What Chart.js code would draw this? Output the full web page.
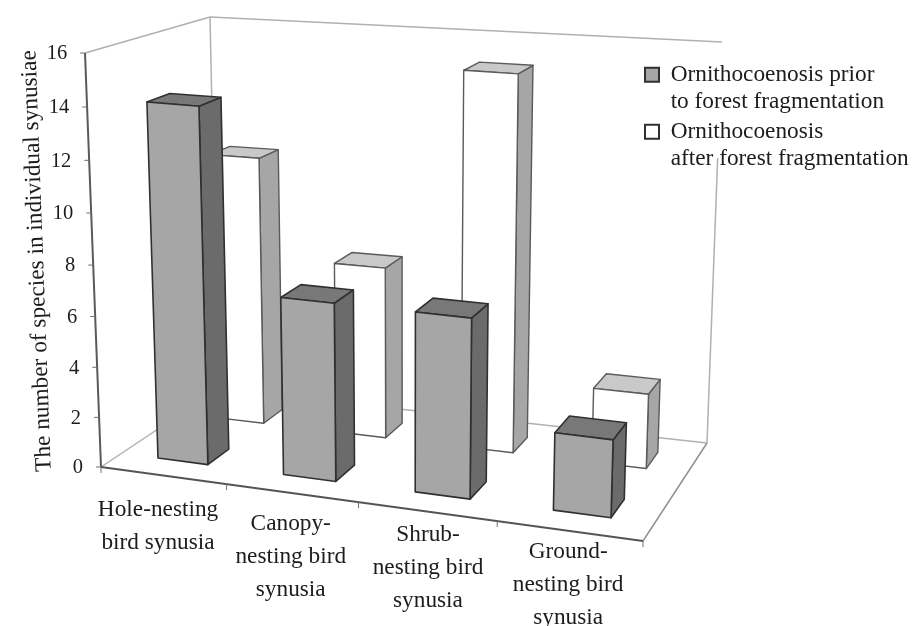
<!DOCTYPE html>
<html><head><meta charset="utf-8">
<style>html,body{margin:0;padding:0;background:#fff}#w{width:912px;height:626px}</style>
<script src="https://cdn.jsdelivr.net/npm/chart.js@4/dist/chart.umd.min.js"></script>
</head><body><div id="w"><canvas id="c" width="912" height="626"></canvas></div>
<script>
const categories = [
  ["Hole-nesting","bird synusia"],
  ["Canopy-","nesting bird","synusia"],
  ["Shrub-","nesting bird","synusia"],
  ["Ground-","nesting bird","synusia"]
];
const priorValues = [14, 7, 7, 3];
const afterValues = [11, 7, 15, 3];
const priorLabel = ["Ornithocoenosis prior","to forest fragmentation"];
const afterLabel = ["Ornithocoenosis","after forest fragmentation"];
const yTitle = "The number of species in individual synusiae";
const yMax = 16, yStep = 2;

const FONT = "'Liberation Serif'";
const FS = 23.3, TICKFS = 20.5;
const TXT = "#1c1c1c";
// perspective box of the plot: floor corners, wall heights for the full axis, vertical vanishing point
const FL=[101,467],FR=[643,541],BR=[707,443],BL=[218,389];
const TBR=[722,42],TBL=[210,17],TFL=[85,53];
const HFL=414,HFR=440,HBR=401,HBL=372;
const VP=[405,8400];
const K=1.05, UWARP=0.045;
function homo(p00,p10,p11,p01){
  const [x0,y0]=p00,[x1,y1]=p10,[x2,y2]=p11,[x3,y3]=p01;
  const dx1=x1-x2,dx2=x3-x2,sx=x0-x1+x2-x3,dy1=y1-y2,dy2=y3-y2,sy=y0-y1+y2-y3;
  const d=dx1*dy2-dx2*dy1,g=(sx*dy2-dx2*sy)/d,h=(dx1*sy-sx*dy1)/d;
  const a=x1-x0+g*x1,b=x3-x0+h*x3,e=y1-y0+g*y1,f=y3-y0+h*y3;
  return (u,v)=>{const w=g*u+h*v+1;return [(a*u+b*v+x0)/w,(e*u+f*v+y0)/w];};
}
const floorH=homo(FL,FR,BR,BL);
function proj(u0,v,h){
  const u=u0+UWARP*u0*(1-u0);
  const p=floorH(u,v);
  const full=(1-v)*((1-u)*HFL+u*HFR)+v*((1-u)*HBL+u*HBR);
  const t=h/(h+K*(1-h))*full;
  return [p[0]+(p[0]-VP[0])/(VP[1]-p[1])*t,p[1]-t];
}
const depthCentre=[0.25,0.75], depthHalf=0.09;
const faceStyle=[
  {front:"#a6a6a6",side:"#6b6b6b",top:"#787878",line:"#303030",lw:1.6},
  {front:"#ffffff",side:"#a6a6a6",top:"#c9c9c9",line:"#5a5a5a",lw:1.4}
];
const labelDrop=[34,31,23,21], labelShift=[-5,-1,1,-1];

function poly(ctx,pts,fill,line,lw){
  ctx.beginPath();pts.forEach((p,i)=>i?ctx.lineTo(p[0],p[1]):ctx.moveTo(p[0],p[1]));ctx.closePath();
  ctx.fillStyle=fill;ctx.fill();ctx.strokeStyle=line;ctx.lineWidth=lw;ctx.lineJoin="round";ctx.stroke();
}
function seg(ctx,a,b,col,lw){ctx.beginPath();ctx.moveTo(a[0],a[1]);ctx.lineTo(b[0],b[1]);ctx.strokeStyle=col;ctx.lineWidth=lw;ctx.stroke();}

const box3d={
  id:"box3d",
  beforeDraw(chart){
    const l=chart.legend; if(!l)return;
    l.left=642;l.right=912;l.top=60;l.bottom=200;
  },
  beforeDatasetsDraw(chart){
    const ctx=chart.ctx,a=chart.chartArea,xs=chart.scales.x,ys=chart.scales.y;
    ctx.save();
    const wall="#b0b0b0";
    seg(ctx,TFL,TBL,wall,1.5);
    seg(ctx,BL,TBL,wall,1.5);
    seg(ctx,TBL,TBR,wall,1.5);
    const t=(158-BR[1])/(TBR[1]-BR[1]);
    seg(ctx,BR,[BR[0]+(TBR[0]-BR[0])*t,158],wall,1.5);
    seg(ctx,FL,BL,wall,1.5);
    seg(ctx,BL,BR,wall,1.5);
    seg(ctx,BR,FR,"#909090",1.5);
    seg(ctx,FR,FL,"#555555",2);
    seg(ctx,FL,TFL,"#5a5a5a",2);
    ctx.textBaseline="middle";ctx.textAlign="right";ctx.font=TICKFS+"px "+FONT;
    ys.ticks.forEach(tk=>{
      const h=(ys.bottom-ys.getPixelForValue(tk.value))/(ys.bottom-ys.top);
      const p=proj(0,0,h);
      seg(ctx,[p[0]-5,p[1]],p,"#707070",1);
      ctx.fillStyle=TXT;ctx.fillText(String(tk.value),p[0]-18,p[1]+1);
    });
    const n=categories.length;
    for(let i=0;i<=n;i++){
      const p=proj(i/n,0,0);
      seg(ctx,p,[p[0],p[1]+6],"#707070",1);
    }
    ctx.textAlign="center";ctx.font=FS+"px "+FONT;
    categories.forEach((lines,i)=>{
      const u=(xs.getPixelForValue(i)-a.left)/a.width,p=proj(u,0,0);
      lines.forEach((s,j)=>{ctx.fillStyle=TXT;ctx.fillText(s,p[0]+labelShift[i],p[1]+labelDrop[i]+j*33);});
    });
    ctx.save();ctx.translate(37,261);ctx.rotate(-(90+2.1)*Math.PI/180);ctx.fillStyle=TXT;ctx.fillText(yTitle,0,0);ctx.restore();
    for(let d=chart.data.datasets.length-1;d>=0;d--){
      const meta=chart.getDatasetMeta(d),st=faceStyle[d],vc=depthCentre[d];
      meta.data.forEach(el=>{
        const uc=(el.x-a.left)/a.width,uh=el.width/2/a.width;
        const h1=(ys.bottom-el.y)/(ys.bottom-ys.top),h0=(ys.bottom-el.base)/(ys.bottom-ys.top);
        const u0=uc-uh,u1=uc+uh,v0=vc-depthHalf,v1=vc+depthHalf;
        poly(ctx,[proj(u1,v0,h0),proj(u1,v1,h0),proj(u1,v1,h1),proj(u1,v0,h1)],st.side,st.line,st.lw);
        poly(ctx,[proj(u0,v0,h1),proj(u1,v0,h1),proj(u1,v1,h1),proj(u0,v1,h1)],st.top,st.line,st.lw);
        poly(ctx,[proj(u0,v0,h0),proj(u1,v0,h0),proj(u1,v0,h1),proj(u0,v0,h1)],st.front,st.line,st.lw);
      });
    }
    ctx.restore();
    return false;
  }
};

new Chart(document.getElementById("c"),{
  type:"bar",
  data:{
    labels:categories,
    datasets:[
      {label:priorLabel,data:priorValues,backgroundColor:"#a6a6a6",borderColor:"#303030",borderWidth:2},
      {label:afterLabel,data:afterValues,backgroundColor:"#ffffff",borderColor:"#303030",borderWidth:2}
    ]
  },
  options:{
    responsive:false,animation:false,
    layout:{padding:0},
    datasets:{bar:{grouped:false,barPercentage:0.403,categoryPercentage:1}},
    scales:{
      x:{display:false},
      y:{display:false,min:0,max:yMax,ticks:{stepSize:yStep}}
    },
    plugins:{
      tooltip:{enabled:false},
      legend:{
        display:true,position:"right",align:"start",
        labels:{
          boxWidth:14,boxHeight:14,padding:3,color:TXT,
          font:{family:FONT,size:FS,lineHeight:1.16},
          generateLabels(chart){
            return chart.data.datasets.map((ds,i)=>({text:ds.label,fillStyle:ds.backgroundColor,strokeStyle:ds.borderColor,lineWidth:ds.borderWidth,datasetIndex:i,fontColor:TXT}));
          }
        }
      }
    }
  },
  plugins:[box3d]
});
</script></body></html>
